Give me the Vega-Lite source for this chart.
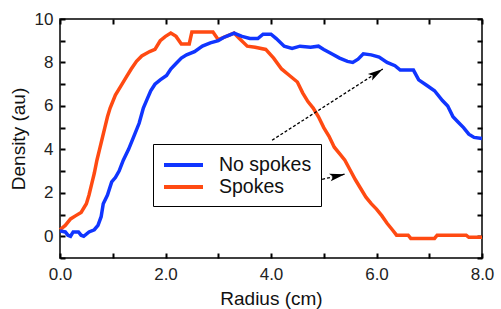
{
  "$schema": "https://vega.github.io/schema/vega-lite/v6.json",
  "width": 422,
  "height": 239,
  "autosize": "none",
  "padding": {"left": 60, "top": 19, "right": 19, "bottom": 51},
  "background": "white",
  "config": {
    "view": {"stroke": "black", "strokeWidth": 1.5},
    "font": "Liberation Sans",
    "axis": {
      "domain": false, "grid": false,
      "labelFont": "Liberation Sans", "labelFontSize": 17, "labelColor": "#222",
      "titleFont": "Liberation Sans", "titleFontSize": 19, "titleFontWeight": "normal", "titleColor": "#111"
    }
  },
  "datasets": {
    "curves": [
      {"series": "Spokes", "r": 0.0, "d": 0.3}, {"series": "Spokes", "r": 0.1, "d": 0.5}, {"series": "Spokes", "r": 0.2, "d": 0.8}, {"series": "Spokes", "r": 0.3, "d": 0.95}, {"series": "Spokes", "r": 0.4, "d": 1.1}, {"series": "Spokes", "r": 0.5, "d": 1.5}, {"series": "Spokes", "r": 0.55, "d": 1.9}, {"series": "Spokes", "r": 0.6, "d": 2.4}, {"series": "Spokes", "r": 0.65, "d": 2.9}, {"series": "Spokes", "r": 0.7, "d": 3.5}, {"series": "Spokes", "r": 0.75, "d": 4.0}, {"series": "Spokes", "r": 0.8, "d": 4.5}, {"series": "Spokes", "r": 0.85, "d": 5.0}, {"series": "Spokes", "r": 0.9, "d": 5.5}, {"series": "Spokes", "r": 0.95, "d": 5.9}, {"series": "Spokes", "r": 1.05, "d": 6.5}, {"series": "Spokes", "r": 1.15, "d": 6.9}, {"series": "Spokes", "r": 1.25, "d": 7.3}, {"series": "Spokes", "r": 1.35, "d": 7.7}, {"series": "Spokes", "r": 1.45, "d": 8.05}, {"series": "Spokes", "r": 1.55, "d": 8.3}, {"series": "Spokes", "r": 1.7, "d": 8.5}, {"series": "Spokes", "r": 1.8, "d": 8.6}, {"series": "Spokes", "r": 1.9, "d": 9.0}, {"series": "Spokes", "r": 2.0, "d": 9.2}, {"series": "Spokes", "r": 2.1, "d": 9.35}, {"series": "Spokes", "r": 2.2, "d": 9.2}, {"series": "Spokes", "r": 2.3, "d": 8.85}, {"series": "Spokes", "r": 2.45, "d": 8.85}, {"series": "Spokes", "r": 2.5, "d": 9.4}, {"series": "Spokes", "r": 2.9, "d": 9.4}, {"series": "Spokes", "r": 3.0, "d": 9.05}, {"series": "Spokes", "r": 3.15, "d": 9.2}, {"series": "Spokes", "r": 3.3, "d": 9.35}, {"series": "Spokes", "r": 3.4, "d": 9.1}, {"series": "Spokes", "r": 3.55, "d": 8.75}, {"series": "Spokes", "r": 3.7, "d": 8.7}, {"series": "Spokes", "r": 3.9, "d": 8.6}, {"series": "Spokes", "r": 4.05, "d": 8.2}, {"series": "Spokes", "r": 4.2, "d": 7.7}, {"series": "Spokes", "r": 4.35, "d": 7.4}, {"series": "Spokes", "r": 4.5, "d": 7.1}, {"series": "Spokes", "r": 4.6, "d": 6.6}, {"series": "Spokes", "r": 4.7, "d": 6.2}, {"series": "Spokes", "r": 4.8, "d": 5.9}, {"series": "Spokes", "r": 4.9, "d": 5.5}, {"series": "Spokes", "r": 5.0, "d": 5.0}, {"series": "Spokes", "r": 5.1, "d": 4.6}, {"series": "Spokes", "r": 5.2, "d": 4.1}, {"series": "Spokes", "r": 5.3, "d": 3.8}, {"series": "Spokes", "r": 5.4, "d": 3.5}, {"series": "Spokes", "r": 5.5, "d": 3.05}, {"series": "Spokes", "r": 5.6, "d": 2.6}, {"series": "Spokes", "r": 5.7, "d": 2.2}, {"series": "Spokes", "r": 5.8, "d": 1.8}, {"series": "Spokes", "r": 5.9, "d": 1.5}, {"series": "Spokes", "r": 6.0, "d": 1.25}, {"series": "Spokes", "r": 6.1, "d": 0.95}, {"series": "Spokes", "r": 6.2, "d": 0.6}, {"series": "Spokes", "r": 6.3, "d": 0.3}, {"series": "Spokes", "r": 6.38, "d": 0.05}, {"series": "Spokes", "r": 6.6, "d": 0.05}, {"series": "Spokes", "r": 6.65, "d": -0.1}, {"series": "Spokes", "r": 7.1, "d": -0.1}, {"series": "Spokes", "r": 7.15, "d": 0.05}, {"series": "Spokes", "r": 7.7, "d": 0.05}, {"series": "Spokes", "r": 7.75, "d": -0.05}, {"series": "Spokes", "r": 8.0, "d": -0.05},
      {"series": "No spokes", "r": 0.0, "d": 0.25}, {"series": "No spokes", "r": 0.1, "d": 0.2}, {"series": "No spokes", "r": 0.15, "d": 0.05}, {"series": "No spokes", "r": 0.2, "d": 0.0}, {"series": "No spokes", "r": 0.25, "d": 0.2}, {"series": "No spokes", "r": 0.35, "d": 0.2}, {"series": "No spokes", "r": 0.4, "d": 0.05}, {"series": "No spokes", "r": 0.45, "d": 0.0}, {"series": "No spokes", "r": 0.55, "d": 0.2}, {"series": "No spokes", "r": 0.65, "d": 0.3}, {"series": "No spokes", "r": 0.72, "d": 0.5}, {"series": "No spokes", "r": 0.78, "d": 0.9}, {"series": "No spokes", "r": 0.82, "d": 1.5}, {"series": "No spokes", "r": 0.9, "d": 1.9}, {"series": "No spokes", "r": 0.98, "d": 2.5}, {"series": "No spokes", "r": 1.05, "d": 2.7}, {"series": "No spokes", "r": 1.12, "d": 3.0}, {"series": "No spokes", "r": 1.2, "d": 3.5}, {"series": "No spokes", "r": 1.3, "d": 4.0}, {"series": "No spokes", "r": 1.4, "d": 4.6}, {"series": "No spokes", "r": 1.5, "d": 5.2}, {"series": "No spokes", "r": 1.58, "d": 5.9}, {"series": "No spokes", "r": 1.65, "d": 6.3}, {"series": "No spokes", "r": 1.72, "d": 6.7}, {"series": "No spokes", "r": 1.8, "d": 7.0}, {"series": "No spokes", "r": 1.9, "d": 7.2}, {"series": "No spokes", "r": 2.02, "d": 7.4}, {"series": "No spokes", "r": 2.1, "d": 7.7}, {"series": "No spokes", "r": 2.2, "d": 7.95}, {"series": "No spokes", "r": 2.3, "d": 8.2}, {"series": "No spokes", "r": 2.4, "d": 8.35}, {"series": "No spokes", "r": 2.55, "d": 8.5}, {"series": "No spokes", "r": 2.7, "d": 8.75}, {"series": "No spokes", "r": 2.85, "d": 8.9}, {"series": "No spokes", "r": 3.0, "d": 9.0}, {"series": "No spokes", "r": 3.1, "d": 9.15}, {"series": "No spokes", "r": 3.2, "d": 9.25}, {"series": "No spokes", "r": 3.3, "d": 9.35}, {"series": "No spokes", "r": 3.45, "d": 9.2}, {"series": "No spokes", "r": 3.6, "d": 9.1}, {"series": "No spokes", "r": 3.75, "d": 9.1}, {"series": "No spokes", "r": 3.85, "d": 9.3}, {"series": "No spokes", "r": 4.0, "d": 9.3}, {"series": "No spokes", "r": 4.1, "d": 9.1}, {"series": "No spokes", "r": 4.25, "d": 8.75}, {"series": "No spokes", "r": 4.4, "d": 8.65}, {"series": "No spokes", "r": 4.55, "d": 8.75}, {"series": "No spokes", "r": 4.75, "d": 8.7}, {"series": "No spokes", "r": 4.9, "d": 8.75}, {"series": "No spokes", "r": 5.0, "d": 8.6}, {"series": "No spokes", "r": 5.15, "d": 8.4}, {"series": "No spokes", "r": 5.3, "d": 8.2}, {"series": "No spokes", "r": 5.45, "d": 8.05}, {"series": "No spokes", "r": 5.55, "d": 8.0}, {"series": "No spokes", "r": 5.65, "d": 8.15}, {"series": "No spokes", "r": 5.75, "d": 8.4}, {"series": "No spokes", "r": 5.9, "d": 8.35}, {"series": "No spokes", "r": 6.05, "d": 8.25}, {"series": "No spokes", "r": 6.2, "d": 8.0}, {"series": "No spokes", "r": 6.35, "d": 7.85}, {"series": "No spokes", "r": 6.45, "d": 7.65}, {"series": "No spokes", "r": 6.7, "d": 7.65}, {"series": "No spokes", "r": 6.8, "d": 7.2}, {"series": "No spokes", "r": 6.95, "d": 6.95}, {"series": "No spokes", "r": 7.1, "d": 6.7}, {"series": "No spokes", "r": 7.25, "d": 6.25}, {"series": "No spokes", "r": 7.35, "d": 6.0}, {"series": "No spokes", "r": 7.45, "d": 5.5}, {"series": "No spokes", "r": 7.55, "d": 5.25}, {"series": "No spokes", "r": 7.65, "d": 5.0}, {"series": "No spokes", "r": 7.75, "d": 4.7}, {"series": "No spokes", "r": 7.85, "d": 4.55}, {"series": "No spokes", "r": 8.0, "d": 4.5}
    ],
    "arrows": [
      {"arrow": "a1", "end": "start", "r": 4.02, "d": 4.42},
      {"arrow": "a1", "end": "tip", "r": 6.12, "d": 7.7},
      {"arrow": "a2", "end": "start", "r": 4.23, "d": 2.21},
      {"arrow": "a2", "end": "tip", "r": 5.4, "d": 2.86}
    ]
  },
  "layer": [
    {
      "data": {"name": "curves"},
      "mark": {"type": "line", "strokeWidth": 3.5, "interpolate": "linear"},
      "encoding": {
        "x": {"field": "r", "type": "quantitative", "scale": {"domain": [0, 8], "nice": false, "zero": false},
              "axis": {"orient": "bottom", "title": "Radius (cm)", "values": [0,1,2,3,4,5,6,7,8],
                       "labelExpr": "datum.value % 2 == 0 ? format(datum.value, '.1f') : ''",
                       "ticks": true, "tickSize": 5, "tickWidth": 2, "tickColor": "#000000", "tickOpacity": 1, "offset": -5,
                       "labelPadding": 8, "titlePadding": 7, "labelFlush": false}},
        "y": {"field": "d", "type": "quantitative", "scale": {"domain": [-1, 10], "nice": false, "zero": false},
              "axis": {"orient": "left", "title": "Density (au)", "values": [-1,0,1,2,3,4,5,6,7,8,9,10],
                       "labelExpr": "datum.value >= 0 && datum.value % 2 == 0 ? format(datum.value, 'd') : ''",
                       "ticks": true, "tickSize": 5, "tickWidth": 2, "tickColor": "#000000", "tickOpacity": 1, "offset": -5,
                       "labelPadding": 7, "titlePadding": 6, "labelFlush": false}},
        "color": {"field": "series", "type": "nominal",
                  "scale": {"domain": ["No spokes", "Spokes"], "range": ["#1035ff", "#ff4a12"]},
                  "legend": {"orient": "none", "legendX": 93, "legendY": 125, "title": null,
                             "strokeColor": "black", "fillColor": "white",
                             "padding": 9, "symbolType": "M-1,0H2.9", "symbolSize": 400, "symbolStrokeWidth": 4,
                             "labelFont": "Liberation Sans", "labelFontSize": 19.5, "labelColor": "#111",
                             "labelOffset": 33, "rowPadding": 0}},
        "detail": {"field": "series"}
      }
    },
    {
      "mark": {"type": "rule", "color": "black", "strokeWidth": 1.5},
      "encoding": {"y": {"datum": 0, "axis": null}}
    },
    {
      "data": {"name": "arrows"},
      "mark": {"type": "line", "color": "black", "strokeWidth": 1.3, "strokeDash": [3, 2]},
      "encoding": {
        "x": {"field": "r", "type": "quantitative",
              "axis": {"orient": "top", "title": null, "labels": false, "values": [0,1,2,3,4,5,6,7,8],
                       "ticks": true, "tickSize": 5, "tickWidth": 2, "tickColor": "#000000", "tickOpacity": 1, "offset": -5}},
        "y": {"field": "d", "type": "quantitative",
              "axis": {"orient": "right", "title": null, "labels": false, "values": [-1,0,1,2,3,4,5,6,7,8,9,10],
                       "ticks": true, "tickSize": 5, "tickWidth": 2, "tickColor": "#000000", "tickOpacity": 1, "offset": -5}},
        "detail": {"field": "arrow"}
      }
    },
    {
      "data": {"name": "arrows"},
      "transform": [{"filter": "datum.arrow == 'a1' && datum.end == 'tip'"}],
      "mark": {"type": "point", "shape": "M0,0L0.35,1.4L0,1.1L-0.35,1.4Z", "filled": true, "color": "black", "size": 480, "angle": 57, "opacity": 1},
      "encoding": {"x": {"field": "r", "type": "quantitative", "axis": null}, "y": {"field": "d", "type": "quantitative", "axis": null}}
    },
    {
      "data": {"name": "arrows"},
      "transform": [{"filter": "datum.arrow == 'a2' && datum.end == 'tip'"}],
      "mark": {"type": "point", "shape": "M0,0L0.35,1.4L0,1.1L-0.35,1.4Z", "filled": true, "color": "black", "size": 480, "angle": 77, "opacity": 1},
      "encoding": {"x": {"field": "r", "type": "quantitative", "axis": null}, "y": {"field": "d", "type": "quantitative", "axis": null}}
    }
  ],
  "resolve": {"axis": {"x": "independent", "y": "independent"}}
}
